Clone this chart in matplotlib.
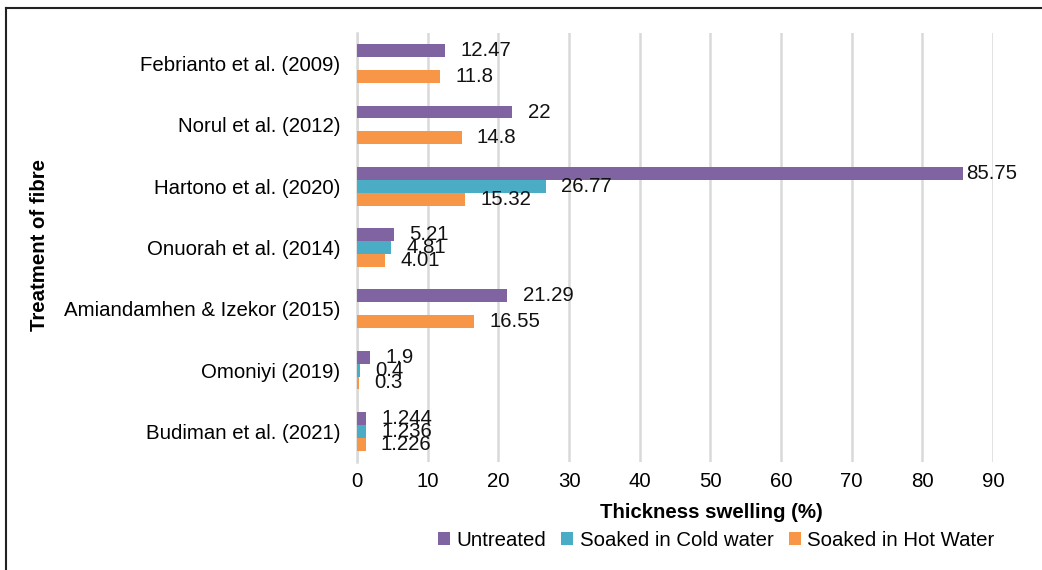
import numpy as np
import matplotlib
matplotlib.use("Agg")
import matplotlib.pyplot as plt
from matplotlib.lines import Line2D

plt.rcParams['font.family'] = ['Liberation Sans', 'DejaVu Sans']

categories = ["Febrianto et al. (2009)", "Norul et al. (2012)", "Hartono et al. (2020)",
              "Onuorah et al. (2014)", "Amiandamhen & Izekor (2015)", "Omoniyi (2019)",
              "Budiman et al. (2021)"]
untreated = [12.47, 22, 85.75, 5.21, 21.29, 1.9, 1.244]
cold_water = [np.nan, np.nan, 26.77, 4.81, np.nan, 0.4, 1.236]
hot_water = [11.8, 14.8, 15.32, 4.01, 16.55, 0.3, 1.226]
series_names = ["Untreated", "Soaked in Cold water", "Soaked in Hot Water"]
colors = ["#8064A2", "#4BACC6", "#F79646"]
xticks = [0, 10, 20, 30, 40, 50, 60, 70, 80, 90]

FS = 14.7
W, H, DPI = 1042, 570, 100
fig = plt.figure(figsize=(W / DPI, H / DPI), dpi=DPI)
ax = fig.add_axes([357 / W, (H - 462) / H, 636 / W, 429 / H])

y = np.arange(len(categories))
bh = 0.21
offsets = [-bh, 0, bh]
for vals, off, col, name in zip([untreated, cold_water, hot_water], offsets, colors, series_names):
    ax.barh(y + off, vals, height=bh, color=col, label=name, zorder=3)
    for yi, v in zip(y, vals):
        if np.isnan(v):
            continue
        dx = 2 if v > 80 else 11
        ax.annotate(f"{v:g}", xy=(v, yi + off), xytext=(dx, 0), textcoords="offset points",
                    ha="left", va="center", fontsize=FS, color="#111111",
                    annotation_clip=False, zorder=5)

ax.set_xlim(0, 90)
ax.set_ylim(len(categories) - 0.5, -0.5)
ax.set_xticks(xticks)
ax.set_yticks(y)
ax.set_yticklabels(categories, fontsize=FS)
ax.tick_params(axis='x', length=0, pad=7, labelsize=FS)
ax.tick_params(axis='y', length=0, pad=12)
ax.grid(axis='x', color="#D9D9D9", linewidth=1.8, zorder=0)
for s in ["top", "right", "bottom"]:
    ax.spines[s].set_visible(False)
ax.spines["left"].set_color("#D9D9D9")
ax.spines["left"].set_linewidth(1.8)

fig.text(711 / W, 1 - 512 / H, "Thickness swelling (%)", ha="center", va="center",
         fontsize=FS, fontweight="bold")
fig.text(40 / W, 1 - 245 / H, "Treatment of fibre", ha="center", va="center",
         rotation=90, fontsize=FS, fontweight="bold")

handles, labels = ax.get_legend_handles_labels()
fig.legend(handles, labels, loc="center", bbox_to_anchor=(716 / W, 1 - 540 / H), ncol=3,
           frameon=False, fontsize=FS, handlelength=0.6, handleheight=0.6,
           handletextpad=0.3, columnspacing=0.75, borderpad=0)

# outer border (top and left visible)
fig.add_artist(Line2D([6 / W, 1], [1 - 8 / H, 1 - 8 / H], transform=fig.transFigure,
                      color="#222222", linewidth=1.5))
fig.add_artist(Line2D([6 / W, 6 / W], [0, 1 - 8 / H], transform=fig.transFigure,
                      color="#222222", linewidth=1.5))

fig.savefig("out.png", dpi=DPI)
